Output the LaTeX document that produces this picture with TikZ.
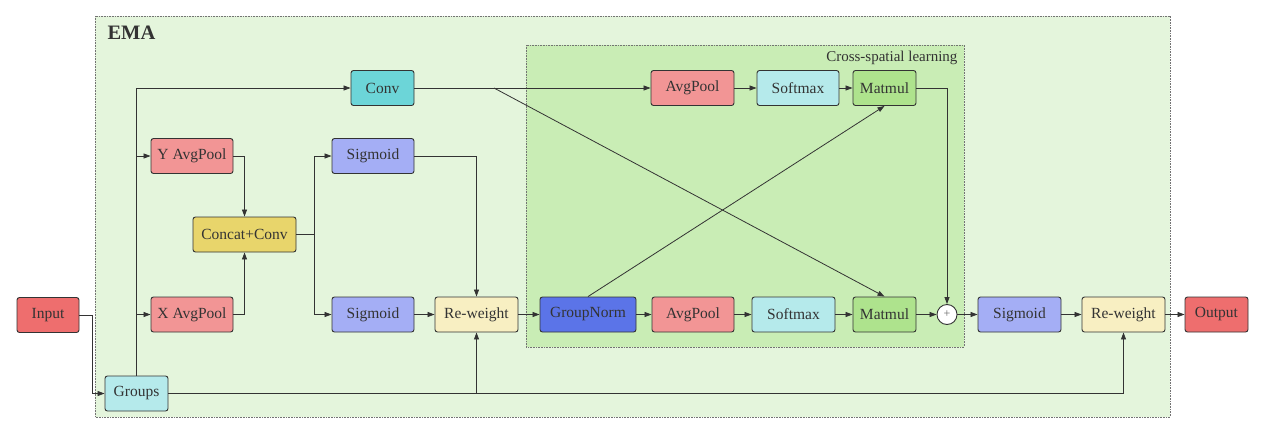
\documentclass[tikz,border=0pt]{standalone}
\usepackage{fontspec}
\setmainfont{Liberation Serif}
\usetikzlibrary{arrows.meta,calc}
\definecolor{emabg}{HTML}{E4F5DC}
\definecolor{csbg}{HTML}{C9EDB5}
\definecolor{cred}{HTML}{EE6E6E}
\definecolor{csalmon}{HTML}{F29595}
\definecolor{cteal}{HTML}{6CD5D8}
\definecolor{ccyan}{HTML}{B5EAEB}
\definecolor{cyellow}{HTML}{E8D56B}
\definecolor{cviolet}{HTML}{A4AEF5}
\definecolor{ccream}{HTML}{F8EFC2}
\definecolor{cblue}{HTML}{5B74E8}
\definecolor{cgreen}{HTML}{AEE38D}
\definecolor{ink}{HTML}{333333}
\begin{document}
\begin{tikzpicture}[x=1pt,y=-1pt,
  blk/.style={draw=ink, line width=0.9pt, rounded corners=2.5pt,
    minimum height=35pt, inner sep=0pt, text=ink,
    font=\fontsize{15.5}{18}\selectfont},
  arr/.style={draw=ink, line width=0.8pt, -{Triangle[length=7pt,width=5pt]}},
  ln/.style={draw=ink, line width=0.8pt},
  frame/.style={draw=black!55, line width=0.6pt, dash pattern=on 0.8pt off 0.8pt}]
\useasboundingbox (0,0) rectangle (1265,434);
\fill[white] (0,0) rectangle (1265,434);

% outer EMA block and cross-spatial block
\draw[frame, fill=emabg] (95,16) rectangle (1170,417);
\node[anchor=west, font=\fontsize{20.5}{24}\selectfont\bfseries, text=ink] (ema) at (104,33) {EMA};
\draw[frame, fill=csbg] (526,45) rectangle (964,347);
\node[anchor=east, font=\fontsize{15}{18}\selectfont, text=ink] (cs) at (961,58) {Cross-spatial learning};

% nodes
\node[blk, fill=cred,    minimum width=62pt] (in)   at (48,315)    {Input};
\node[blk, fill=ccyan,   minimum width=63pt] (grp)  at (136.5,393.5) {Groups};
\node[blk, fill=cteal,   minimum width=63pt] (conv) at (382.5,88)  {Conv};
\node[blk, fill=csalmon, minimum width=82pt] (yap)  at (192,156)   {Y AvgPool};
\node[blk, fill=csalmon, minimum width=82pt] (xap)  at (192,314.5) {X AvgPool};
\node[blk, fill=cyellow, minimum width=103pt] (cc)  at (244.5,234.5) {Concat+Conv};
\node[blk, fill=cviolet, minimum width=82pt] (sg1)  at (373,156)   {Sigmoid};
\node[blk, fill=cviolet, minimum width=82pt] (sg2)  at (373,314.5) {Sigmoid};
\node[blk, fill=ccream,  minimum width=83pt] (rw1)  at (476.5,314.5) {Re-weight};
\node[blk, fill=cblue,   minimum width=96pt] (gn)   at (588,314.5) {GroupNorm};
\node[blk, fill=csalmon, minimum width=82pt] (ap2)  at (693,314.5) {AvgPool};
\node[blk, fill=ccyan,   minimum width=83pt] (sm2)  at (793.5,314.5) {Softmax};
\node[blk, fill=cgreen,  minimum width=63pt] (mm2)  at (884.5,314.5) {Matmul};
\node[blk, fill=csalmon, minimum width=83pt] (ap1)  at (692.5,88)  {AvgPool};
\node[blk, fill=ccyan,   minimum width=82pt] (sm1)  at (798,88)    {Softmax};
\node[blk, fill=cgreen,  minimum width=63pt] (mm1)  at (884.5,88)  {Matmul};
\node[circle, draw=ink, line width=0.9pt, fill=white, minimum size=20pt, inner sep=0pt,
      text=black!60, font=\fontsize{12}{12}\selectfont] (plus) at (947,314.5) {+};
\node[blk, fill=cviolet, minimum width=83pt] (sg3)  at (1019.5,314.5) {Sigmoid};
\node[blk, fill=ccream,  minimum width=83pt] (rw2)  at (1123.5,314.5) {Re-weight};
\node[blk, fill=cred,    minimum width=63pt] (out)  at (1216.5,314.5) {Output};

% input to groups
\draw[arr] (in.east) -- ++(13,0) |- (grp.west);
% groups fan-out
\draw[arr] (grp.north) |- (conv.west);
\draw[arr] (grp.north |- yap.west) -- (yap.west);
\draw[arr] (grp.north |- xap.west) -- (xap.west);
\draw[arr] (grp.east) -| (rw2.south);
\draw[arr] (grp.east -| rw1.south) -- (rw1.south);
% directional pooling branch
\draw[arr] (yap.east) -| (cc.north);
\draw[arr] (xap.east) -| (cc.south);
\draw[ln] (cc.east) -- ++(18,0) coordinate (split);
\draw[arr] (split) |- (sg1.west);
\draw[arr] (split) |- (sg2.west);
\draw[arr] (sg1.east) -| (rw1.north);
\draw[arr] (sg2) -- (rw1);
\draw[arr] (rw1) -- (gn);
% cross-spatial learning
\draw[arr] (gn) -- (ap2);
\draw[arr] (ap2) -- (sm2);
\draw[arr] (sm2) -- (mm2);
\draw[arr] (conv) -- (ap1);
\draw[arr] (ap1) -- (sm1);
\draw[arr] (sm1) -- (mm1);
\coordinate (cx) at (494,88);
\draw[arr] (cx) -- (mm2.north);
\draw[arr] (gn.north) -- (mm1.south);
\draw[arr] (mm1.east) -| (plus.north);
\draw[arr] (mm2) -- (plus);
% output stage
\draw[arr] (plus) -- (sg3);
\draw[arr] (sg3) -- (rw2);
\draw[arr] (rw2) -- (out);
\end{tikzpicture}
\end{document}
